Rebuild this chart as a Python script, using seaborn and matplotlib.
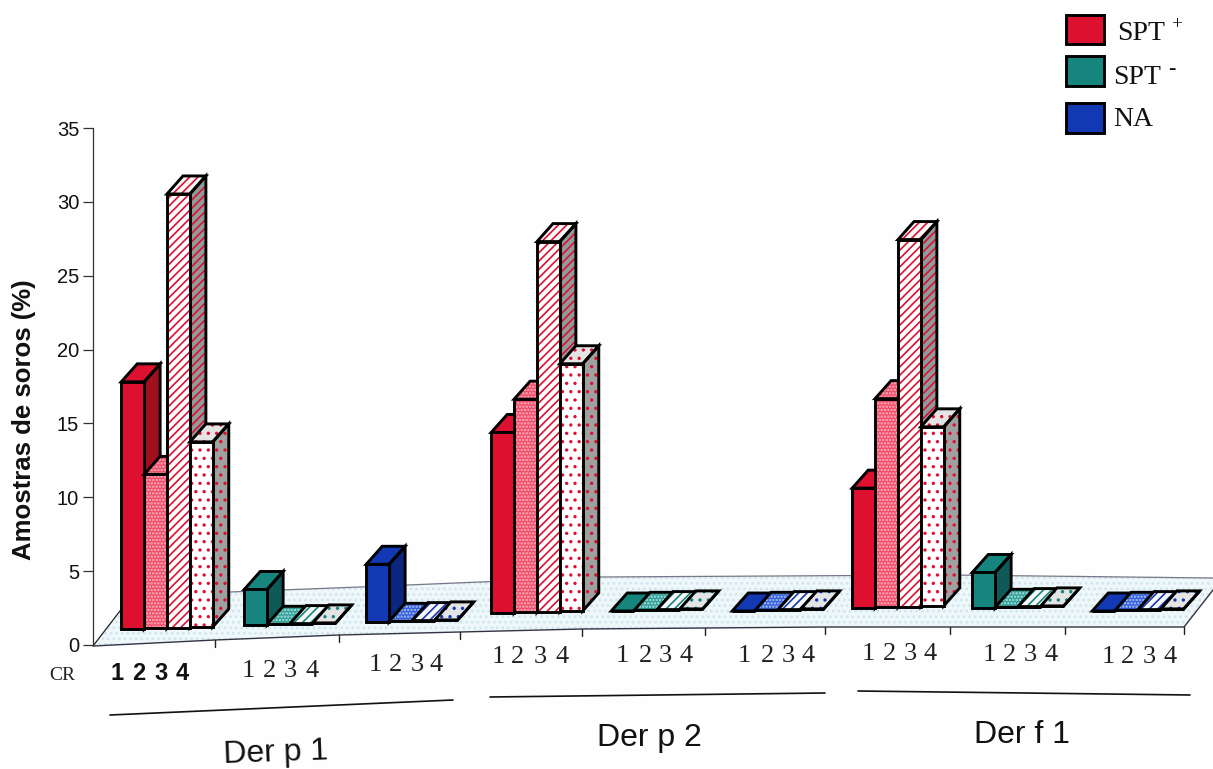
import matplotlib
matplotlib.use('Agg')
from matplotlib import pyplot as plt
from matplotlib.patches import Polygon, Rectangle
import pandas as pd
import seaborn as sns

sns.set_theme(style='white')
plt.rcParams['font.family'] = ['Liberation Sans', 'DejaVu Sans']
plt.rcParams['hatch.linewidth'] = 1.2

# values
condition_names = ['SPT +', 'SPT -', 'NA']
allergens = ['Der p 1', 'Der p 2', 'Der f 1']
cr_levels = [1, 2, 3, 4]
der_p1_pos = [16.7, 10.4, 29.3, 12.5]
der_p1_neg = [2.4, 0, 0, 0]
der_p1_na = [3.9, 0, 0, 0]
der_p2_pos = [12.2, 14.4, 25.0, 16.7]
der_p2_neg = [0, 0, 0, 0]
der_p2_na = [0, 0, 0, 0]
der_f1_pos = [8.1, 14.1, 24.8, 12.1]
der_f1_neg = [2.4, 0, 0, 0]
der_f1_na = [0, 0, 0, 0]
series = [der_p1_pos, der_p1_neg, der_p1_na,
          der_p2_pos, der_p2_neg, der_p2_na,
          der_f1_pos, der_f1_neg, der_f1_na]

# layout of the scanned page, in pixels
W, H = 1213, 769
PX_PER_UNIT = 14.8
BAR_W = 22.5
DEPTH_X, DEPTH_Y = 16, 18
group_left = [122, 245, 367, 492, 612, 733, 853, 973, 1093]
group_base = [629, 625, 622, 613, 611, 611, 608, 608, 611]
colors = ['#dd1030', '#15857d', '#1238b4']
side_colors = ['#a0101f', '#0f5a58', '#0c2680']
fine_faces = ['#ee4a66', '#2c9c94', '#2f5cd8']
fine_dots = ['#ffb5c0', '#b0e4e0', '#b0c4f4']


def to_y(py):
    return (H - py) / PX_PER_UNIT


rows = []
for g, vals in enumerate(series):
    for cr, v in zip(cr_levels, vals):
        rows.append({'pos': group_left[g] + 2 * BAR_W, 'cr': cr, 'value': v, 'g': g})
df = pd.DataFrame(rows)

fig = plt.figure(figsize=(W / 100, H / 100), dpi=100, facecolor='#fefefe')
ax = fig.add_axes([0, 0, 1, 1])
ax.patch.set_visible(False)

sns.barplot(data=df, x='pos', y='value', hue='cr', native_scale=True, errorbar=None,
            width=4 * BAR_W / 118, gap=0, legend=False, ax=ax, linewidth=0)
ax.set_xlim(0, W)
ax.set_ylim(0, H / PX_PER_UNIT)
ax.axis('off')

# seaborn gives the fronts, left to right
bars = sorted(ax.patches, key=lambda p: p.get_x())

# floor
front_edge = [(93, 646), (215, 640), (339, 635), (460, 632), (582, 629),
              (705, 628), (825, 627), (950, 627), (1065, 627), (1184, 627)]
back_edge = [(1213, 590), (1213, 578), (950, 575), (600, 577), (360, 587), (230, 592), (120, 611)]
floor = Polygon([(x, to_y(y)) for x, y in front_edge + back_edge], closed=True,
                facecolor='#eef8fb', edgecolor='#d3e5ec', hatch='...', linewidth=0, zorder=1)
ax.add_patch(floor)
ax.plot(*zip(*[(x, to_y(y)) for x, y in front_edge + [(1213, 590)]]), color='#333344', lw=1, zorder=2)
ax.plot(*zip(*[(x, to_y(y)) for x, y in back_edge[1:]]), color='#777788', lw=0.9, zorder=2)
ax.plot([93, 120], [to_y(646), to_y(611)], color='#222222', lw=0.9, zorder=2)
for x, y in front_edge[1:]:
    ax.plot([x, x], [to_y(y), to_y(y + 7)], color='#222222', lw=1, zorder=2)


def style_for(fam, cr):
    c = colors[fam]
    if cr == 1:
        return dict(face=c, hatch=None, ink=c, top=c, side=side_colors[fam], side_ink=side_colors[fam])
    if cr == 2:
        return dict(face=fine_faces[fam], hatch='.....', ink=fine_dots[fam], top=fine_faces[fam],
                    side='#909090', side_ink=c)
    if cr == 3:
        return dict(face='#ffffff', hatch='////', ink=c, top='#f8f8f8', side='#8f9a9a', side_ink=c)
    return dict(face='#ffffff', hatch='..', ink=c, top='#e4e4e4', side='#a0a0a0', side_ink=c)


# shift each front onto the tilted floor and add the 3D faces
for n, (bar, row) in enumerate(zip(bars, df.itertuples())):
    fam = row.g % 3
    st = style_for(fam, row.cr)
    z = 3 + n * 0.01
    x0 = bar.get_x()
    x1 = x0 + bar.get_width()
    y0 = to_y(group_base[row.g] - (row.cr - 1) * 0.7)
    y1 = y0 + bar.get_height()
    dx = DEPTH_X
    dy = DEPTH_Y / PX_PER_UNIT
    bar.set_y(y0)
    bar.set_facecolor(st['face'])
    bar.set_edgecolor(st['ink'])
    bar.set_linewidth(0)
    bar.set_hatch(st['hatch'])
    bar.set_zorder(z + 0.004)
    top = [(x0, y1), (x0 + dx, y1 + dy), (x1 + dx, y1 + dy), (x1, y1)]
    side = [(x1, y0), (x1 + dx, y0 + dy), (x1 + dx, y1 + dy), (x1, y1)]
    ax.add_patch(Polygon(side, closed=True, facecolor=st['side'], edgecolor=st['side_ink'],
                         hatch=st['hatch'], linewidth=0, zorder=z))
    ax.add_patch(Polygon(top, closed=True, facecolor=st['top'], edgecolor=st['ink'],
                         hatch=st['hatch'], linewidth=0, zorder=z + 0.001))
    ax.add_patch(Polygon(side, closed=True, fill=False, edgecolor='black', linewidth=2.1, zorder=z + 0.002))
    ax.add_patch(Polygon(top, closed=True, fill=False, edgecolor='black', linewidth=2.1, zorder=z + 0.003))
    ax.add_patch(Rectangle((x0, y0), x1 - x0, y1 - y0, fill=False, edgecolor='black',
                           linewidth=2.1, zorder=z + 0.005))

# value axis
ax2 = fig.add_axes([93 / W, (H - 645) / H, 0.001, (645 - 128) / H])
ax2.patch.set_visible(False)
ax2.set_ylim(0, 35)
ax2.set_xticks([])
ax2.set_yticks(range(0, 36, 5))
ax2.tick_params(axis='y', left=True, length=7, width=0.9, color='#333333', labelsize=14.5, pad=3, labelcolor='#111111')
for s in ['top', 'right', 'bottom']:
    ax2.spines[s].set_visible(False)
ax2.spines['left'].set_color('#333333')
ax2.spines['left'].set_linewidth(0.9)
ax2.set_ylabel('Amostras de soros (%)', fontsize=18.5, fontweight='semibold', color='#111111', labelpad=15, y=0.435)

# CR labels
ax.text(62, to_y(675), 'CR', family='Liberation Serif', fontsize=14, ha='center', va='center', color='#222222')
label_rows = [([117, 139, 161, 182], 673), ([248, 270, 290, 312], 671), ([375, 396, 417, 436], 665),
              ([498, 518, 540, 562], 657), ([622, 645, 665, 686], 656), ([744, 767, 788, 808], 656),
              ([868, 890, 910, 930], 654), ([989, 1009, 1030, 1051], 655), ([1108, 1128, 1149, 1170], 657)]
for i, (xs, y) in enumerate(label_rows):
    for x, cr in zip(xs, cr_levels):
        if i == 0:
            ax.text(x, to_y(y), str(cr), fontsize=17, fontweight='bold', ha='center', va='center', color='#111111')
        else:
            ax.text(x, to_y(y), str(cr), family='Liberation Serif', fontsize=19, ha='center', va='center', color='#222222')

# allergen brackets
bracket_lines = [((110, 715), (453, 700)), ((490, 697), (825, 693)), ((858, 691), (1190, 695))]
for (a, b) in bracket_lines:
    ax.plot([a[0], b[0]], [to_y(a[1]), to_y(b[1])], color='#111111', lw=1.2)
for name, (x, y), rot in zip(allergens, [(276, 753), (649, 738), (1022, 735)], [2, 0, 0]):
    ax.text(x, to_y(y), name, fontsize=23, ha='center', va='center', rotation=rot, color='#111111')

# legend
legend_boxes = [(15, 44), (56, 86), (103, 133)]
for c, (top_y, bot_y) in zip(colors, legend_boxes):
    ax.add_patch(Rectangle((1066, to_y(bot_y)), 38, to_y(top_y) - to_y(bot_y), facecolor=c,
                           edgecolor='black', linewidth=2.1, zorder=3))
serif = dict(family='Liberation Serif', color='#111111', va='center')
ax.text(1117, to_y(33), 'SPT', fontsize=20, ha='left', **serif)
ax.text(1171, to_y(25), '+', fontsize=14, ha='left', **serif)
ax.text(1113, to_y(78), 'SPT', fontsize=20, ha='left', **serif)
ax.text(1168, to_y(70), '-', fontsize=16, ha='left', **serif)
ax.text(1113, to_y(119), 'NA', fontsize=20, ha='left', **serif)

fig.savefig('out.png', dpi=100, facecolor=fig.get_facecolor())
